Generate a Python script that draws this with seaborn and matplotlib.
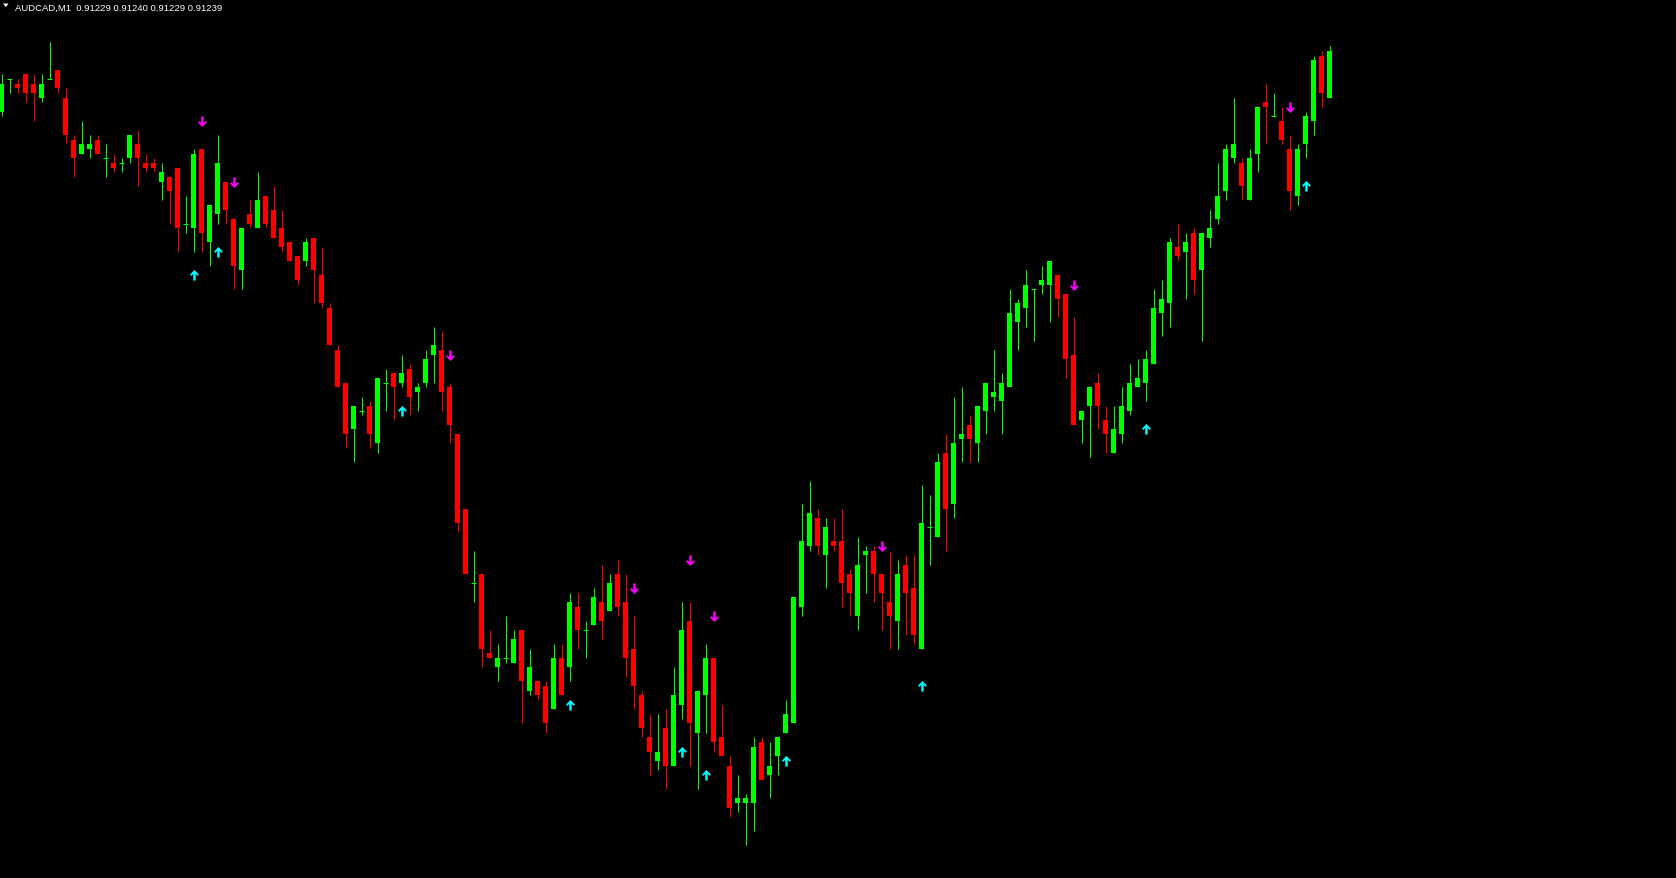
import numpy as np
import matplotlib
matplotlib.use('Agg')
import matplotlib.pyplot as plt
from matplotlib.path import Path
from matplotlib.patches import Polygon
import seaborn as sns

# AUDCAD M1 candles
opens = [0.91226, 0.91233, 0.91232, 0.91234, 0.91232, 0.91229, 0.91233, 0.91235, 0.91229, 0.91220,
         0.91217, 0.91218, 0.91220, 0.91216, 0.91215, 0.91215, 0.91216, 0.91219, 0.91215, 0.91215,
         0.91211, 0.91212, 0.91214, 0.91202, 0.91201, 0.91218, 0.91198, 0.91204, 0.91211, 0.91203,
         0.91192, 0.91204, 0.91201, 0.91208, 0.91205, 0.91201, 0.91198, 0.91195, 0.91194, 0.91199,
         0.91191, 0.91184, 0.91175, 0.91168, 0.91158, 0.91162, 0.91163, 0.91155, 0.91168, 0.91170,
         0.91168, 0.91171, 0.91166, 0.91168, 0.91174, 0.91175, 0.91167, 0.91157, 0.91141, 0.91125,
         0.91127, 0.91110, 0.91107, 0.91109, 0.91108, 0.91115, 0.91102, 0.91104, 0.91103, 0.91098,
         0.91109, 0.91107, 0.91120, 0.91115, 0.91116, 0.91121, 0.91119, 0.91127, 0.91121, 0.91111,
         0.91101, 0.91092, 0.91087, 0.91094, 0.91086, 0.91099, 0.91117, 0.91093, 0.91101, 0.91109,
         0.91092, 0.91086, 0.91078, 0.91078, 0.91078, 0.91091, 0.91084, 0.91088, 0.91093, 0.91095,
         0.91120, 0.91133, 0.91139, 0.91131, 0.91134, 0.91134, 0.91127, 0.91118, 0.91131, 0.91132,
         0.91127, 0.91121, 0.91117, 0.91129, 0.91124, 0.91111, 0.91137, 0.91135, 0.91153, 0.91142,
         0.91156, 0.91159, 0.91155, 0.91162, 0.91165, 0.91164, 0.91167, 0.91181, 0.91184, 0.91188,
         0.91189, 0.91189, 0.91191, 0.91187, 0.91174, 0.91160, 0.91163, 0.91168, 0.91160, 0.91153,
         0.91157, 0.91162, 0.91167, 0.91168, 0.91172, 0.91183, 0.91185, 0.91197, 0.91196, 0.91200,
         0.91192, 0.91199, 0.91203, 0.91209, 0.91216, 0.91215, 0.91207, 0.91217, 0.91228, 0.91225,
         0.91224, 0.91218, 0.91208, 0.91219, 0.91224, 0.91238, 0.91229]

highs = [0.91234, 0.91233, 0.91233, 0.91234, 0.91234, 0.91234, 0.91241, 0.91235, 0.91231, 0.91221,
         0.91224, 0.91221, 0.91221, 0.91219, 0.91217, 0.91216, 0.91221, 0.91222, 0.91217, 0.91216,
         0.91215, 0.91212, 0.91214, 0.91208, 0.91218, 0.91218, 0.91206, 0.91221, 0.91211, 0.91203,
         0.91201, 0.91207, 0.91213, 0.91208, 0.91210, 0.91205, 0.91198, 0.91195, 0.91199, 0.91199,
         0.91197, 0.91185, 0.91176, 0.91168, 0.91163, 0.91165, 0.91164, 0.91169, 0.91171, 0.91170,
         0.91174, 0.91172, 0.91168, 0.91175, 0.91180, 0.91179, 0.91168, 0.91157, 0.91141, 0.91132,
         0.91127, 0.91115, 0.91112, 0.91118, 0.91115, 0.91115, 0.91111, 0.91104, 0.91104, 0.91112,
         0.91112, 0.91123, 0.91123, 0.91117, 0.91124, 0.91129, 0.91127, 0.91130, 0.91127, 0.91118,
         0.91102, 0.91097, 0.91097, 0.91098, 0.91107, 0.91121, 0.91121, 0.91102, 0.91112, 0.91109,
         0.91099, 0.91088, 0.91084, 0.91080, 0.91092, 0.91092, 0.91091, 0.91092, 0.91100, 0.91122,
         0.91142, 0.91147, 0.91141, 0.91139, 0.91139, 0.91141, 0.91128, 0.91135, 0.91133, 0.91133,
         0.91127, 0.91132, 0.91130, 0.91131, 0.91131, 0.91146, 0.91144, 0.91153, 0.91157, 0.91165,
         0.91167, 0.91161, 0.91163, 0.91168, 0.91175, 0.91170, 0.91188, 0.91186, 0.91192, 0.91188,
         0.91193, 0.91194, 0.91191, 0.91187, 0.91182, 0.91162, 0.91167, 0.91170, 0.91163, 0.91163,
         0.91167, 0.91172, 0.91173, 0.91175, 0.91188, 0.91190, 0.91199, 0.91202, 0.91200, 0.91201,
         0.91200, 0.91205, 0.91215, 0.91219, 0.91229, 0.91216, 0.91218, 0.91227, 0.91232, 0.91230,
         0.91227, 0.91221, 0.91219, 0.91226, 0.91238, 0.91239, 0.91240]

lows = [0.91225, 0.91230, 0.91230, 0.91228, 0.91224, 0.91228, 0.91233, 0.91230, 0.91219, 0.91212,
        0.91217, 0.91216, 0.91217, 0.91212, 0.91213, 0.91213, 0.91215, 0.91210, 0.91213, 0.91213,
        0.91207, 0.91202, 0.91196, 0.91200, 0.91196, 0.91196, 0.91193, 0.91202, 0.91202, 0.91188,
        0.91188, 0.91201, 0.91201, 0.91201, 0.91199, 0.91196, 0.91194, 0.91189, 0.91193, 0.91185,
        0.91184, 0.91176, 0.91167, 0.91154, 0.91151, 0.91161, 0.91154, 0.91153, 0.91162, 0.91160,
        0.91167, 0.91161, 0.91162, 0.91167, 0.91168, 0.91162, 0.91155, 0.91136, 0.91127, 0.91121,
        0.91107, 0.91109, 0.91104, 0.91108, 0.91108, 0.91095, 0.91101, 0.91100, 0.91093, 0.91098,
        0.91101, 0.91104, 0.91111, 0.91109, 0.91116, 0.91113, 0.91119, 0.91118, 0.91105, 0.91098,
        0.91092, 0.91084, 0.91085, 0.91081, 0.91086, 0.91096, 0.91086, 0.91081, 0.91093, 0.91089,
        0.91088, 0.91075, 0.91076, 0.91069, 0.91072, 0.91083, 0.91079, 0.91084, 0.91093, 0.91095,
        0.91118, 0.91132, 0.91131, 0.91124, 0.91132, 0.91120, 0.91118, 0.91115, 0.91123, 0.91121,
        0.91115, 0.91111, 0.91111, 0.91114, 0.91112, 0.91111, 0.91129, 0.91135, 0.91132, 0.91139,
        0.91151, 0.91151, 0.91151, 0.91157, 0.91162, 0.91157, 0.91167, 0.91175, 0.91180, 0.91177,
        0.91187, 0.91181, 0.91182, 0.91169, 0.91159, 0.91155, 0.91152, 0.91158, 0.91153, 0.91153,
        0.91155, 0.91161, 0.91167, 0.91164, 0.91172, 0.91178, 0.91180, 0.91194, 0.91186, 0.91187,
        0.91177, 0.91197, 0.91202, 0.91207, 0.91215, 0.91207, 0.91207, 0.91213, 0.91219, 0.91225,
        0.91219, 0.91205, 0.91206, 0.91216, 0.91221, 0.91227, 0.91229]

closes = [0.91232, 0.91233, 0.91231, 0.91230, 0.91230, 0.91232, 0.91233, 0.91231, 0.91221, 0.91216,
          0.91219, 0.91219, 0.91217, 0.91216, 0.91214, 0.91215, 0.91221, 0.91216, 0.91214, 0.91214,
          0.91213, 0.91209, 0.91201, 0.91202, 0.91217, 0.91200, 0.91206, 0.91215, 0.91205, 0.91193,
          0.91201, 0.91202, 0.91207, 0.91202, 0.91199, 0.91197, 0.91194, 0.91190, 0.91198, 0.91192,
          0.91185, 0.91176, 0.91167, 0.91157, 0.91163, 0.91162, 0.91157, 0.91169, 0.91168, 0.91167,
          0.91170, 0.91165, 0.91167, 0.91173, 0.91176, 0.91166, 0.91159, 0.91138, 0.91127, 0.91125,
          0.91111, 0.91109, 0.91109, 0.91109, 0.91113, 0.91104, 0.91107, 0.91101, 0.91095, 0.91109,
          0.91101, 0.91121, 0.91115, 0.91115, 0.91122, 0.91117, 0.91125, 0.91120, 0.91109, 0.91103,
          0.91094, 0.91089, 0.91089, 0.91086, 0.91101, 0.91115, 0.91095, 0.91102, 0.91109, 0.91091,
          0.91088, 0.91077, 0.91079, 0.91079, 0.91090, 0.91083, 0.91086, 0.91092, 0.91097, 0.91122,
          0.91134, 0.91140, 0.91133, 0.91137, 0.91133, 0.91125, 0.91123, 0.91129, 0.91132, 0.91127,
          0.91123, 0.91118, 0.91127, 0.91123, 0.91114, 0.91138, 0.91137, 0.91151, 0.91141, 0.91155,
          0.91157, 0.91156, 0.91163, 0.91168, 0.91166, 0.91168, 0.91183, 0.91185, 0.91189, 0.91188,
          0.91190, 0.91194, 0.91186, 0.91173, 0.91159, 0.91162, 0.91167, 0.91163, 0.91157, 0.91158,
          0.91163, 0.91168, 0.91169, 0.91173, 0.91184, 0.91186, 0.91198, 0.91195, 0.91198, 0.91190,
          0.91200, 0.91201, 0.91208, 0.91218, 0.91219, 0.91210, 0.91216, 0.91227, 0.91227, 0.91225,
          0.91220, 0.91209, 0.91218, 0.91225, 0.91237, 0.91230, 0.91239]

# indicator signals: bar index and arrow price
sell_bars = [25, 29, 56, 79, 86, 89, 110, 134, 161]
sell_prices = [0.91224, 0.91211, 0.91174, 0.91124, 0.91130, 0.91118, 0.91133, 0.91189, 0.91227]
buy_bars = [24, 27, 50, 71, 85, 88, 98, 115, 143, 163]
buy_prices = [0.91191, 0.91196, 0.91162, 0.91099, 0.91089, 0.91084, 0.91087, 0.91103, 0.91158, 0.91210]

title = 'AUDCAD,M1  0.91229 0.91240 0.91229 0.91239'

sns.set_style('dark', {'axes.facecolor': 'black', 'figure.facecolor': 'black'})
plt.rcParams['font.family'] = ['Liberation Sans', 'DejaVu Sans']

W, H = 1676, 879
fig = plt.figure(figsize=(W / 100, H / 100), dpi=100)
ax = fig.add_axes([0, 0, 1, 1])
ax.set_facecolor('black')
ax.set_axis_off()

bull = '#00FF00'
bear = '#FF0000'
o = np.array(opens)
c = np.array(closes)
hi = np.array(highs)
lo = np.array(lows)
x = np.arange(len(o))
colors = [bull if cc >= oo else bear for oo, cc in zip(o, c)]

# wicks
ax.vlines(x, lo, hi, colors=colors, linewidth=0.75)
# bodies
body_w = 5 / 8
ax.bar(x, np.abs(c - o), bottom=np.minimum(o, c), width=body_w, color=colors, linewidth=0)
# doji bars (open == close)
doji = np.isclose(o, c)
ax.hlines(c[doji], x[doji] - body_w / 2, x[doji] + body_w / 2, colors=bull, linewidth=0.75)

# arrow markers (thick stem + chevron head)
down_verts = [(-1.2, 5), (1.2, 5), (1.2, -1.6), (3.1, 0.4), (4.4, -0.9), (0, -5.5),
              (-4.4, -0.9), (-3.1, 0.4), (-1.2, -1.6), (-1.2, 5)]
down_marker = Path(down_verts, [Path.MOVETO] + [Path.LINETO] * 8 + [Path.CLOSEPOLY])
up_marker = Path([(vx, -vy) for vx, vy in down_verts], down_marker.codes)

sns.scatterplot(x=sell_bars, y=sell_prices, marker=down_marker, s=64, color='#FF00FF',
                linewidth=0, ax=ax, legend=False)
sns.scatterplot(x=buy_bars, y=buy_prices, marker=up_marker, s=64, color='#00FFFF',
                linewidth=0, ax=ax, legend=False)

# pixel-aligned scales: 8 px per bar, ~4.67 px per point
ax.set_xlim(-1.5 / 8, -1.5 / 8 + W / 8)
ax.set_ylim(0.91239 - 827 / 4.67 / 1e5, 0.91239 + 52 / 4.67 / 1e5)

# header
fig.patches.append(Polygon([(3, H - 4.5), (8.5, H - 4.5), (5.75, H - 8)], closed=True,
                           facecolor='white', edgecolor='none', transform=None))
fig.text(15 / W, 1 - 11 / H, title, color='white', fontsize=6.8, va='baseline', ha='left')

fig.savefig('out.png', dpi=100, facecolor='black')
